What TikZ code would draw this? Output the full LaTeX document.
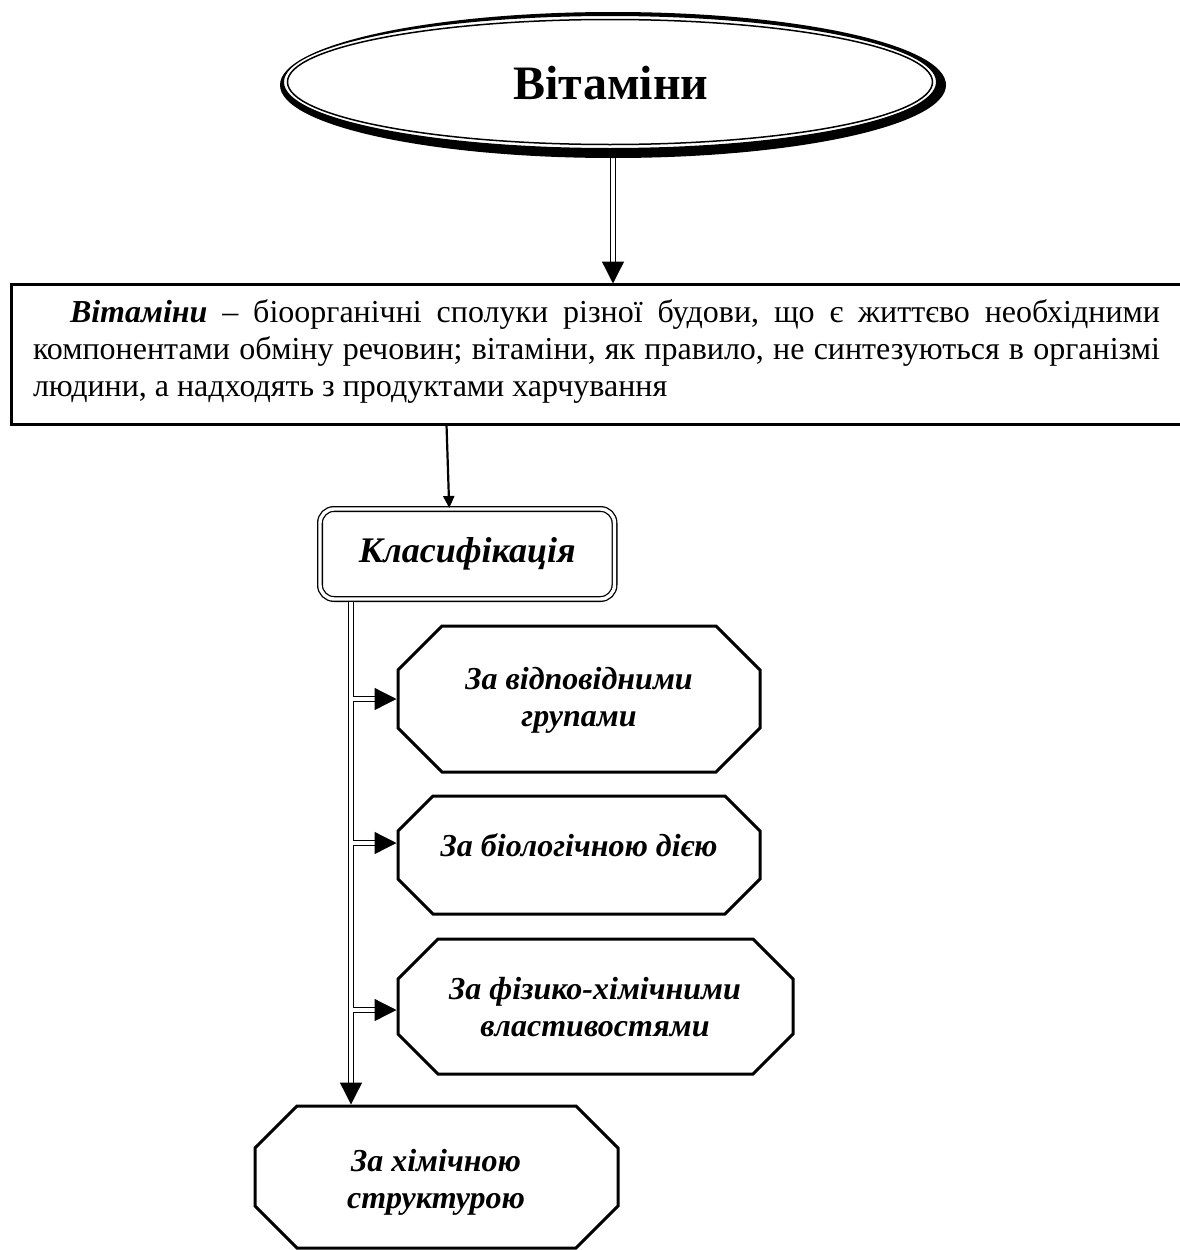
\documentclass[tikz,border=0pt]{standalone}
\usepackage{fontspec}
\setmainfont{Liberation Serif}
\usetikzlibrary{arrows.meta,calc,shapes.geometric}

% chamfered frame around a rectangular node: #1 node name, #2 chamfer (pt)
\newcommand\octframe[2]{%
  \draw[octline]
    ([xshift=#2pt]#1.north west) -- ([xshift=-#2pt]#1.north east)
    -- ([yshift=-#2pt]#1.north east) -- ([yshift=#2pt]#1.south east)
    -- ([xshift=-#2pt]#1.south east) -- ([xshift=#2pt]#1.south west)
    -- ([yshift=#2pt]#1.south west) -- ([yshift=-#2pt]#1.north west)
    -- cycle;}
% one fully justified line of the definition
\newcommand\fullline[1]{\leavevmode\hbox to 1127pt{\spaceskip=0.25em plus 1fil\relax #1}}

\begin{document}
\begin{tikzpicture}[x=1pt,y=-1pt,
  every node/.style={outer sep=0pt},
  dblline/.style={draw=black, line width=1.3pt, double=white, double distance=3.2pt},
  bigtip/.style={-{Triangle[length=22pt,width=22pt]}},
  octline/.style={line width=3pt},
  octbox/.style={rectangle, inner sep=0pt, minimum width=#1},
  octtext/.style={font=\bfseries\itshape\fontsize{32}{37}\selectfont, align=center, inner sep=0pt},
  clsbox/.style={draw, line width=1.3pt, double=white, double distance=3.4pt,
    rounded corners=14pt, minimum width=294.5pt, minimum height=90pt,
    font=\bfseries\itshape\fontsize{36}{40}\selectfont},
  deftext/.style={font=\fontsize{32}{37}\selectfont, text width=1127pt, align=left, inner sep=0pt},
]
\useasboundingbox (0,0) rectangle (1180,1250);

% title ellipse
\node[ellipse, inner sep=0pt, minimum width=666pt, minimum height=146pt,
      font=\bfseries\fontsize{48}{56}\selectfont] (ell) at (611,83) {Вітаміни};

% definition box (runs past the right edge)
\node[draw, line width=3pt, rectangle, anchor=north west,
      minimum width=1200pt, minimum height=140pt] (defbox) at (11.5,284.5) {};
\node[deftext, anchor=north west] (deftxt) at (33,300) {%
\spaceskip=0pt\xspaceskip=0pt\frenchspacing
\fullline{\hspace*{37pt}\textbf{\textit{Вітаміни}} – біоорганічні сполуки різної будови, що є життєво необхідними}\\
\fullline{компонентами обміну речовин; вітаміни, як правило, не синтезуються в організмі}\\
людини, а надходять з продуктами харчування};

% classification box
\node[clsbox] (cls) at (467.25,554) {Класифікація};

% classification kinds
\node[octbox=362pt, minimum height=146pt] (o1) at (579,699) {};
\node[octbox=362pt, minimum height=118pt] (o2) at (579,855) {};
\node[octbox=395pt, minimum height=135pt] (o3) at (595.5,1006.5) {};
\node[octbox=363pt, minimum height=142pt] (o4) at (436.5,1177) {};
\octframe{o1}{44}
\octframe{o2}{35}
\octframe{o3}{40}
\octframe{o4}{42}
\node[octtext] (t1) at (579,700) {За відповідними\\групами};
\node[octtext] (t2) at (579,845) {За біологічною дією};
\node[octtext] (t3) at (595,1007) {За фізико-хімічними\\властивостями};
\node[octtext] (t4) at (436,1182) {За хімічною\\структурою};

% connectors
\coordinate (trunk) at ($(cls.south west)+(31,2.5)$);
\coordinate (in1) at (o1.west);
\coordinate (in2) at ([yshift=12pt]o2.west);
\coordinate (in3) at ([yshift=-3.5pt]o3.west);

\draw[dblline, bigtip, shorten >=1pt] ([xshift=2pt]ell.south) -- ([xshift=2pt]ell.south |- defbox.north);
\draw[line width=2.2pt, -{Triangle[length=12pt,width=11pt]}, shorten >=1pt]
  ([xshift=-165pt]defbox.south) -- ([xshift=-18pt]cls.north);
\draw[dblline, bigtip, shorten >=1.5pt] (trunk) -- (trunk |- o4.north);
\foreach \k in {1,2,3}
  \draw[dblline, bigtip, shorten >=1.5pt] ([xshift=2pt]trunk |- in\k) -- (in\k);

% double rim of the title ellipse: heavy outer band, thin inner line
\fill[even odd rule]
  ([shift={(2,2)}]ell.center) ellipse [x radius=333, y radius=73]
  ([shift={(-1,-1)}]ell.center) ellipse [x radius=326, y radius=66];
\draw[line width=1.5pt] ([shift={(-1,-1)}]ell.center) ellipse [x radius=322.5, y radius=62.5];
\end{tikzpicture}
\end{document}
